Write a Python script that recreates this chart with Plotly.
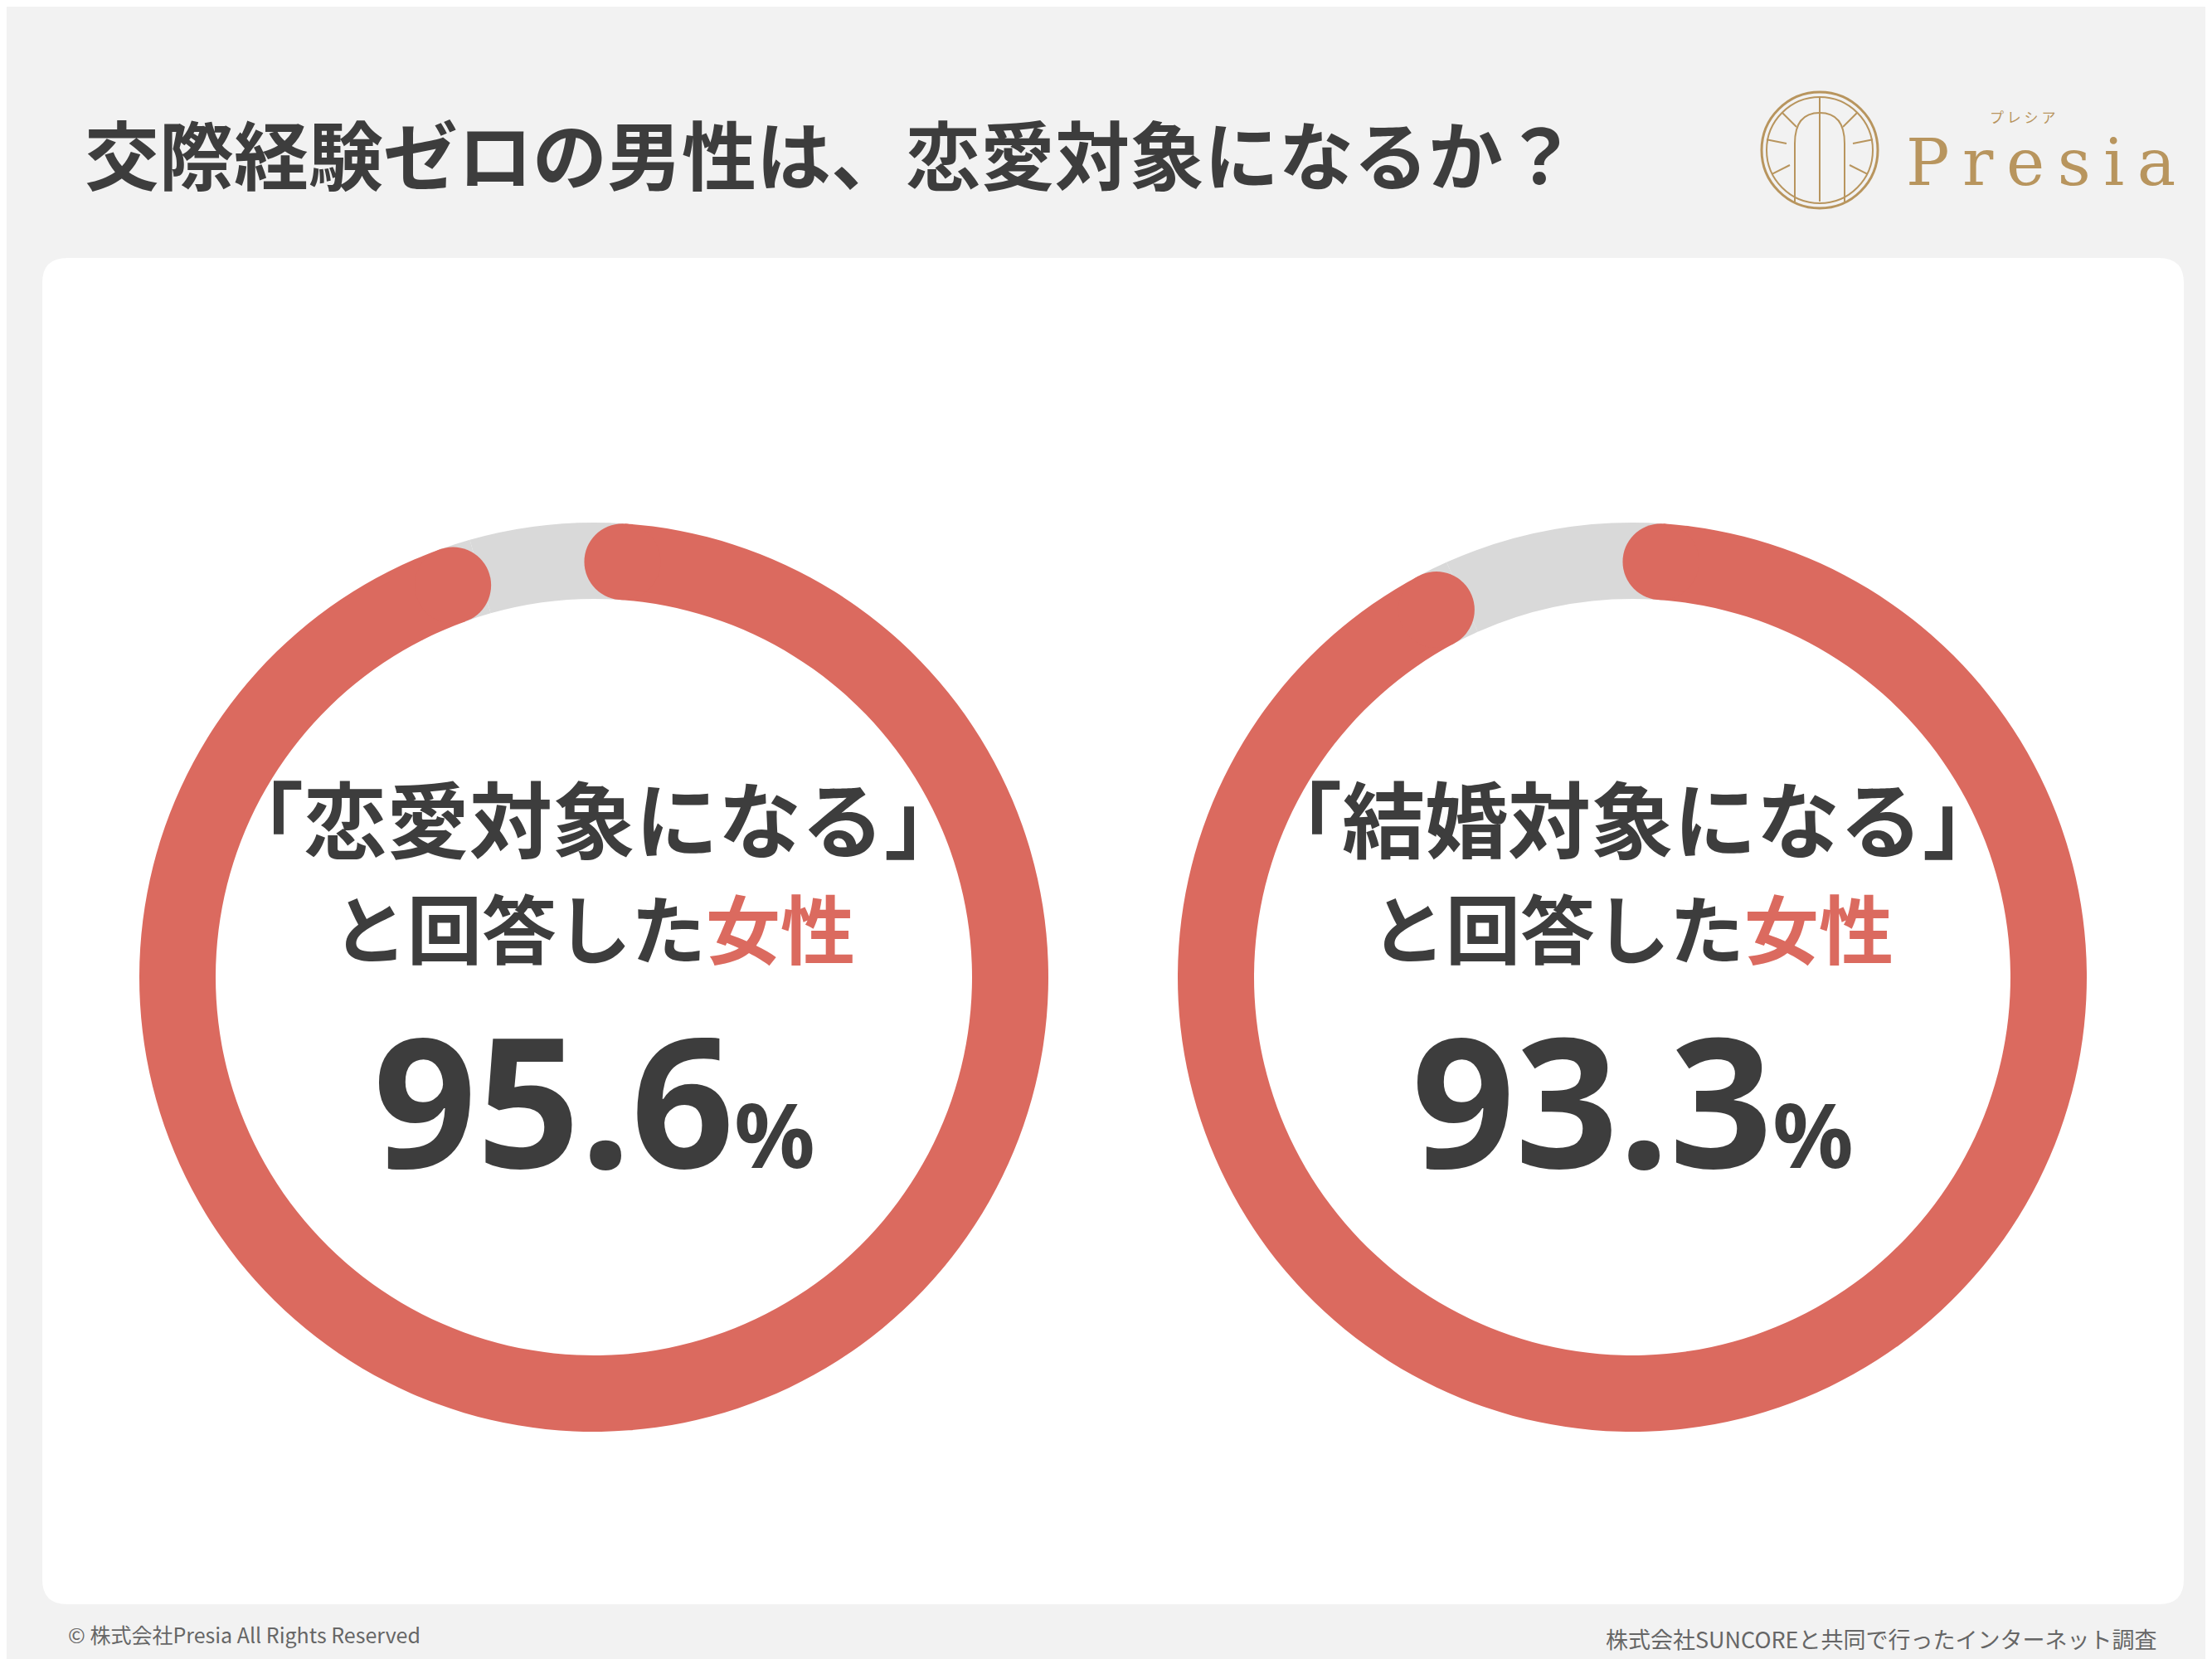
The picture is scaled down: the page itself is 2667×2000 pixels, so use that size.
import math
import plotly.graph_objects as go

W, H = 2667, 2000

# データ
labels = ["「恋愛対象になる」", "「結婚対象になる」"]
values = [95.6, 93.3]
centers_x = [708, 1960]
center_y = 1170

RED = "#db6a5f"
GREY = "#d9d9d9"
DARK = "#3d3d3d"
GOLD = "#b8955e"
FONT = "Noto Sans CJK JP"

R_OUT, R_IN = 548, 456
R_MID = (R_OUT + R_IN) / 2
CAP = (R_OUT - R_IN) / 2
CAP_PCT = math.degrees(CAP / R_MID) / 3.6 * 0.75  # 丸い端の分だけ弧を内側に

fig = go.Figure()
# 座標軸を作るための見えないトレース
fig.add_trace(go.Scatter(x=[0, W], y=[0, H], mode="markers", marker=dict(opacity=0),
                         hoverinfo="skip", showlegend=False))

# 白いパネル（角丸）
x0, y0, x1, y1, r = 43, 303, 2625, 1926, 30
panel = (f"M{x0+r},{y0} L{x1-r},{y0} Q{x1},{y0} {x1},{y0+r} L{x1},{y1-r} Q{x1},{y1} {x1-r},{y1} "
         f"L{x0+r},{y1} Q{x0},{y1} {x0},{y1-r} L{x0},{y0+r} Q{x0},{y0} {x0+r},{y0} Z")
shapes = [dict(type="path", path=panel, fillcolor="white", line_width=0, layer="below")]

for cx, v, lab in zip(centers_x, values, labels):
    fig.add_trace(go.Pie(
        values=[CAP_PCT, v - 2 * CAP_PCT, CAP_PCT, 100 - v], hole=R_IN / R_OUT, sort=False,
        direction="clockwise", rotation=0,
        marker=dict(colors=[GREY, RED, GREY, GREY], line=dict(width=0)),
        textinfo="none", hoverinfo="skip", showlegend=False,
        domain=dict(x=[(cx - R_OUT) / W, (cx + R_OUT) / W],
                    y=[1 - (center_y + R_OUT) / H, 1 - (center_y - R_OUT) / H]),
    ))
    # 丸い端
    for pct in (CAP_PCT, v - CAP_PCT):
        a = math.radians(pct * 3.6)
        px, py = cx + R_MID * math.sin(a), center_y - R_MID * math.cos(a)
        shapes.append(dict(type="circle", x0=px - CAP, x1=px + CAP, y0=py - CAP, y1=py + CAP,
                           fillcolor=RED, line_width=0, layer="above"))
    fig.add_annotation(x=cx, y=975, text=f"<b>{lab}</b>", showarrow=False,
                       font=dict(size=100, color=DARK, family=FONT))
    fig.add_annotation(x=cx, y=1108, text=f"<b>と回答した<span style='color:{RED}'>女性</span></b>",
                       showarrow=False, font=dict(size=90, color=DARK, family=FONT))
    fig.add_annotation(x=cx, y=1315, text=f"<b>{v}<span style='font-size:108px'>%</span></b>",
                       showarrow=False, font=dict(size=218, color=DARK, family="Noto Sans"))

# ロゴ
lx, ly = 2186, 173
shapes.append(dict(type="circle", x0=lx - 70, x1=lx + 70, y0=ly - 70, y1=ly + 70,
                   line=dict(color=GOLD, width=3)))
shapes.append(dict(type="circle", x0=lx - 64, x1=lx + 64, y0=ly - 64, y1=ly + 64,
                   line=dict(color=GOLD, width=2)))
shapes.append(dict(type="path", path=f"M{lx-30},{ly+62} L{lx-30},{ly-8} Q{lx-30},{ly-45} {lx},{ly-45} "
                   f"Q{lx+30},{ly-45} {lx+30},{ly-8} L{lx+30},{ly+62}", line=dict(color=GOLD, width=2)))
for dx, dy in [(0, -1), (0.7, -0.7), (-0.7, -0.7), (1, -0.2), (-1, -0.2), (0.9, 0.45), (-0.9, 0.45)]:
    shapes.append(dict(type="line", x0=lx + dx * 40, y0=ly + dy * 40, x1=lx + dx * 64, y1=ly + dy * 64,
                       line=dict(color=GOLD, width=2)))
shapes.append(dict(type="line", x0=lx, y0=ly - 45, x1=lx, y1=ly + 62, line=dict(color=GOLD, width=2)))
fig.add_annotation(x=2288, y=188, text="P\u2009r\u2009e\u2009s\u2009i\u2009a", showarrow=False,
                   xanchor="left", font=dict(size=78, color=GOLD, family="DejaVu Serif"))
fig.add_annotation(x=2430, y=132, text="プ レ シ ア", showarrow=False,
                   font=dict(size=17, color=GOLD, family=FONT))

# タイトル・フッター
fig.add_annotation(x=92, y=175, text="<b>交際経験ゼロの男性は、恋愛対象になるか？</b>", showarrow=False,
                   xanchor="left", font=dict(size=90, color=DARK, family=FONT))
fig.add_annotation(x=72, y=1962, text="© 株式会社Presia All Rights Reserved", showarrow=False,
                   xanchor="left", font=dict(size=25, color="#666666", family=FONT))
fig.add_annotation(x=2595, y=1967, text="株式会社SUNCOREと共同で行ったインターネット調査", showarrow=False,
                   xanchor="right", font=dict(size=27, color="#666666", family=FONT))

fig.update_layout(
    width=W, height=H, margin=dict(l=0, r=0, t=0, b=0),
    paper_bgcolor="#f2f2f2", plot_bgcolor="rgba(0,0,0,0)",
    xaxis=dict(range=[0, W], visible=False, fixedrange=True),
    yaxis=dict(range=[H, 0], visible=False, fixedrange=True),
    shapes=shapes,
)

fig.write_html("out.html")
